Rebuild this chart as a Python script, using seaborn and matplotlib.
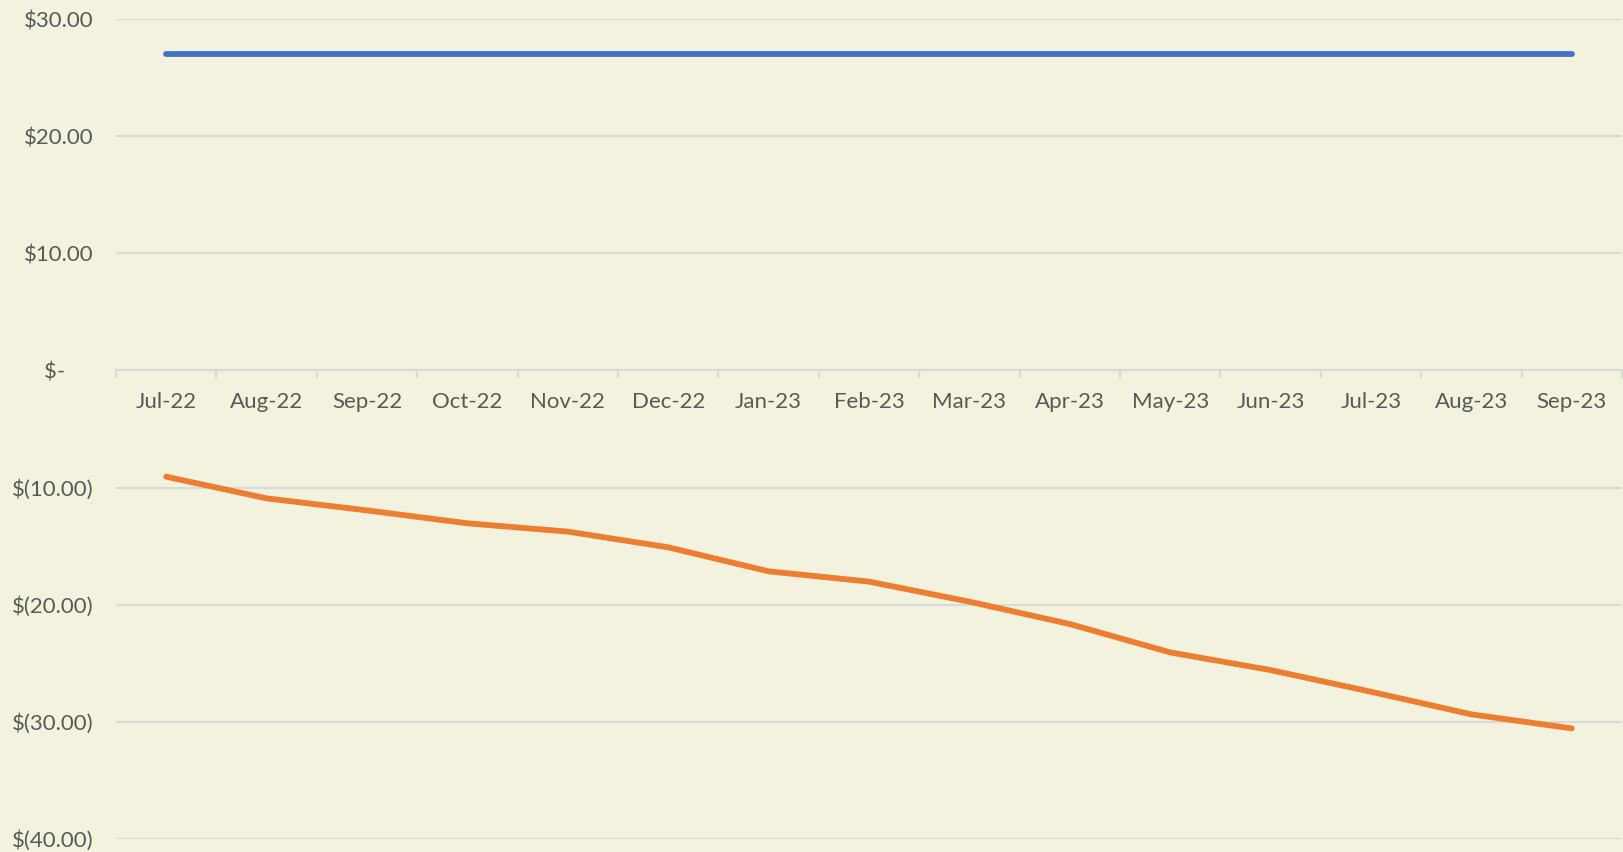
# Monthly values chart - two series around zero

import numpy as np
import pandas as pd
import matplotlib
matplotlib.use("Agg")
import matplotlib.pyplot as plt
import seaborn as sns
from matplotlib.ticker import FixedLocator


# Data
months = ["Jul-22", "Aug-22", "Sep-22", "Oct-22", "Nov-22", "Dec-22", "Jan-23",
          "Feb-23", "Mar-23", "Apr-23", "May-23", "Jun-23", "Jul-23", "Aug-23", "Sep-23"]

top_series = [27.0] * 15

bottom_series = [-9.07, -10.92, -11.95, -13.05, -13.76, -15.1, -17.15,
                 -18.03, -19.74, -21.65, -24.07, -25.58, -27.43, -29.36, -30.56]

y_ticks = [30, 20, 10, 0, -10, -20, -30, -40]
y_labels = ["$30.00", "$20.00", "$10.00", "$-     ", "$(10.00)", "$(20.00)", "$(30.00)", "$(40.00)"]

df = pd.DataFrame({
    "Month": months * 2,
    "Value": top_series + bottom_series,
    "Series": ["top"] * 15 + ["bottom"] * 15
})

# Style
bg = "#F2F2DE"
grid_col = "#D9D9D9"
text_col = "#595959"

sns.set_theme(style="white")
plt.rcParams["font.family"] = ["Lato", "DejaVu Sans"]

fig = plt.figure(figsize=(16.24, 8.52), dpi=100, facecolor=bg)
ax = fig.add_axes([116 / 1624, 13 / 852, 1506 / 1624, 820 / 852])
ax.set_facecolor(bg)

sns.lineplot(
    data=df,
    x="Month",
    y="Value",
    hue="Series",
    palette={"top": "#4472C4", "bottom": "#ED7D31"},
    sort=False,
    linewidth=4.2,
    legend=False,
    ax=ax
)
for line in ax.lines:
    line.set_solid_capstyle("round")
    line.set_solid_joinstyle("round")

# Axes limits and grid
ax.set_xlim(-0.5, len(months) - 0.5)
ax.set_ylim(-40, 30)
ax.set_yticks(y_ticks)
ax.set_yticklabels(y_labels)
ax.yaxis.grid(True, color=grid_col, linewidth=1.5)
ax.set_axisbelow(True)

for side in ["left", "right", "top"]:
    ax.spines[side].set_visible(False)
ax.spines["bottom"].set_position(("data", 0))
ax.spines["bottom"].set_color(grid_col)
ax.spines["bottom"].set_linewidth(1.5)

# Category ticks: labels centred, tick marks at boundaries
ax.set_xticks(range(len(months)))
ax.set_xticklabels(months)
ax.xaxis.set_minor_locator(FixedLocator(np.arange(-0.5, len(months), 1.0)))
ax.tick_params(axis="x", which="major", length=0, pad=15.5, labelsize=16, labelcolor=text_col)
ax.tick_params(axis="x", which="minor", length=6, width=1.5, color=grid_col, direction="out", bottom=True)
ax.tick_params(axis="y", length=0, pad=16, labelsize=16, labelcolor=text_col)

ax.set_xlabel("")
ax.set_ylabel("")

fig.savefig("out.png", dpi=100, facecolor=bg)
